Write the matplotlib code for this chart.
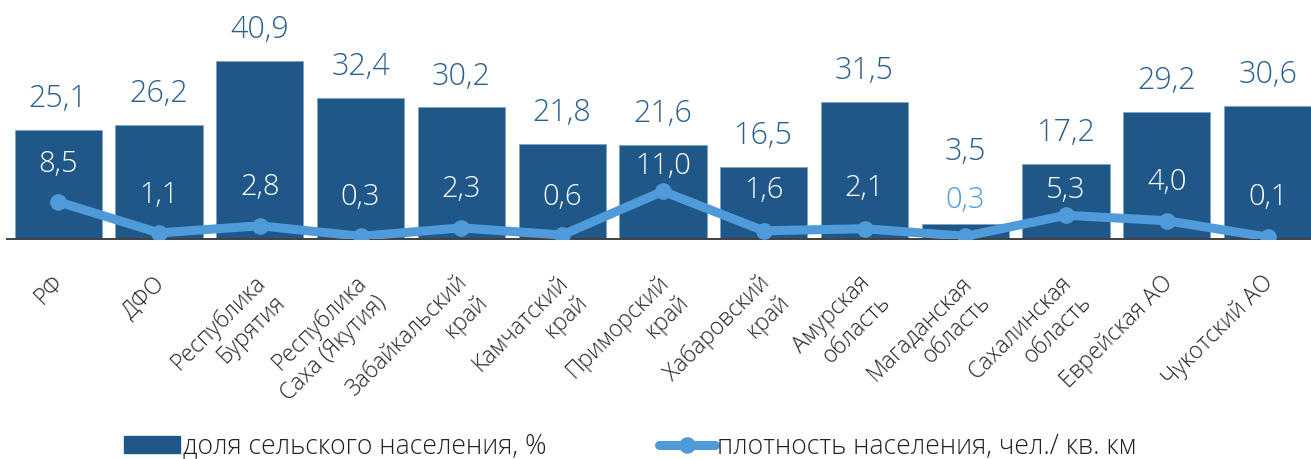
import matplotlib
matplotlib.use("Agg")
import matplotlib.pyplot as plt
import matplotlib.transforms as mtransforms
from matplotlib.lines import Line2D
from matplotlib.patches import Patch

plt.rcParams['font.family'] = ['Open Sans', 'DejaVu Sans']
plt.rcParams['font.weight'] = 'light'

# данные
regions = ['РФ', 'ДФО', 'Республика\nБурятия', 'Республика\nСаха (Якутия)',
           'Забайкальский\nкрай', 'Камчатский\nкрай', 'Приморский\nкрай',
           'Хабаровский\nкрай', 'Амурская\nобласть', 'Магаданская\nобласть',
           'Сахалинская\nобласть', 'Еврейская АО', 'Чукотский АО']
rural_share = [25.1, 26.2, 40.9, 32.4, 30.2, 21.8, 21.6, 16.5, 31.5, 3.5, 17.2, 29.2, 30.6]
density = [8.5, 1.1, 2.8, 0.3, 2.3, 0.6, 11.0, 1.6, 2.1, 0.3, 5.3, 4.0, 0.1]

# смещения подписей (в точках)
share_offsets = [22, 22, 22, 22, 22, 22, 22, 22, 22, 52, 22, 22, 22]
density_offsets = [27, 27, 28, 28, 28, 27, 18, 29, 29, 26, 18, 28, 29]

bar_color = '#1F5788'
line_color = '#4F9BDA'
text_color = '#2A5F8F'

W, H = 1311, 459
fig = plt.figure(figsize=(W / 100, H / 100), dpi=100)
ax = fig.add_axes([7 / W, (H - 239) / H, (W - 7) / W, 239 / H])

x = list(range(len(regions)))
ax.bar(x, rural_share, width=0.865, color=bar_color, edgecolor='#7FA3C4',
       linewidth=0.6, zorder=2)
ax.set_xlim(-0.508, 12.43)
ax.set_ylim(0, 54.8)

for xi, v, off in zip(x, rural_share, share_offsets):
    ax.annotate(f'{v:.1f}'.replace('.', ','), (xi, v), xytext=(0, off),
                textcoords='offset points', ha='center', va='center',
                fontsize=22, color=text_color)

for s in ['top', 'right', 'left']:
    ax.spines[s].set_visible(False)
ax.spines['bottom'].set_color('#404040')
ax.spines['bottom'].set_linewidth(1.4)
ax.set_yticks([])
ax.set_xticks(x)
ax.set_xticklabels(regions, rotation=45, ha='right', rotation_mode='anchor',
                   fontsize=16.5, color='#222222')
ax.tick_params(axis='x', length=0, pad=23)
shift = mtransforms.ScaledTranslation(-6 / 100, 0, fig.dpi_scale_trans)
for lbl in ax.get_xticklabels():
    lbl.set_transform(lbl.get_transform() + shift)

ax2 = ax.twinx()
ax2.plot(x, density, color=line_color, linewidth=6.5, marker='o',
         markersize=11, solid_capstyle='round', zorder=3)
ax2.set_ylim(-0.35, 56.5)
ax2.axis('off')

for xi, v, off, h in zip(x, density, density_offsets, rural_share):
    c = 'white' if h > 10 else line_color
    ax2.annotate(f'{v:.1f}'.replace('.', ','), (xi, v), xytext=(0, off),
                 textcoords='offset points', ha='center', va='center',
                 fontsize=21, color=c)

handles = [Patch(facecolor=bar_color, edgecolor=bar_color),
           Line2D([], [], color=line_color, linewidth=6.5, marker='o',
                  markersize=11, solid_capstyle='round')]
fig.legend(handles, ['доля сельского населения, %',
                     'плотность населения, чел./ кв. км'],
           loc='center', bbox_to_anchor=(0.481, 0.027), ncol=2, frameon=False,
           fontsize=19.2, handlelength=2.1, handleheight=0.6, handletextpad=0.1,
           columnspacing=4.2, labelcolor='#222222')

fig.savefig('out.png', dpi=100)
